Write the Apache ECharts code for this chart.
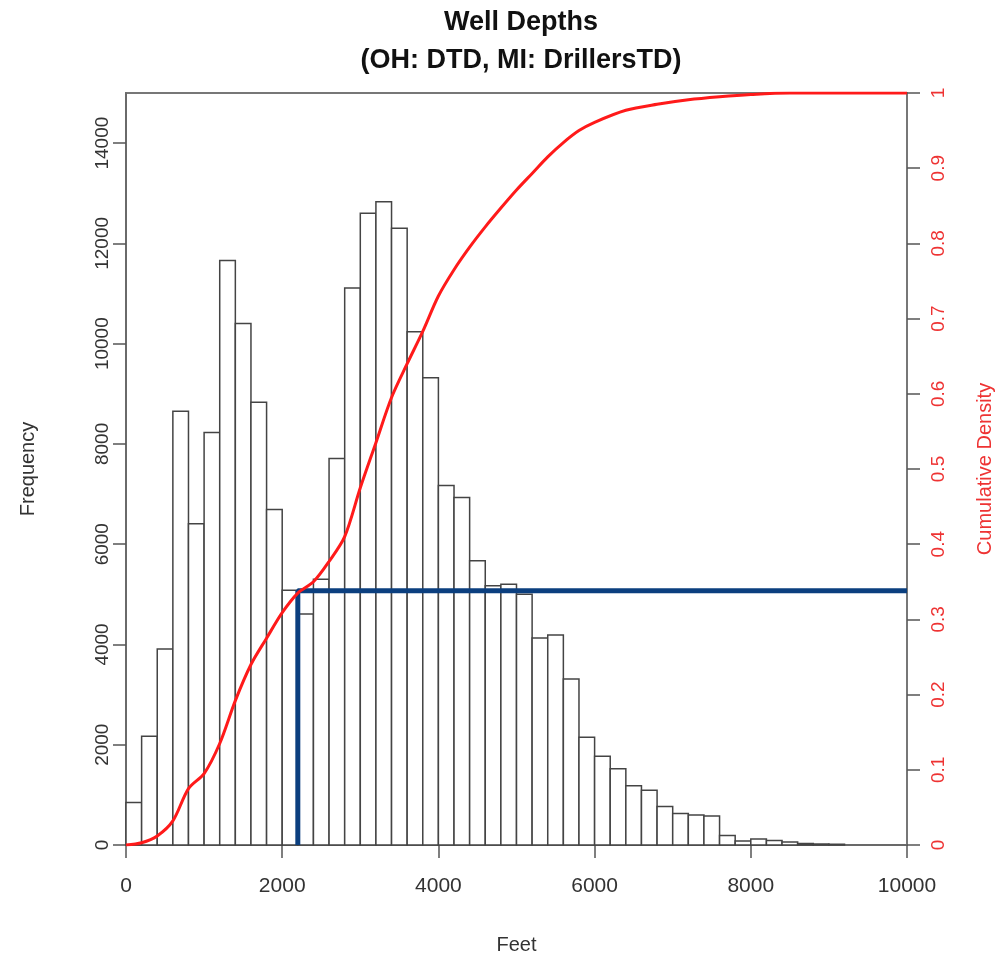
<!DOCTYPE html>
<html>
<head>
<meta charset="utf-8">
<title>Well Depths</title>
<script src="https://cdn.jsdelivr.net/npm/echarts@6/dist/echarts.min.js"></script>
<style>
  html, body { margin: 0; padding: 0; background: #fff; }
  #chart { width: 1007px; height: 960px; }
</style>
</head>
<body>
<div id="chart"></div>
<script>
// histogram: 200 ft bins starting at 0
const binWidth = 200
const counts = [
  850, 2170, 3910, 8650, 6410, 8230, 11660, 10400, 8830, 6690,
  5080, 4610, 5300, 7710, 11110, 12600, 12830, 12300, 10240, 9320,
  7170, 6930, 5670, 5170, 5200, 5000, 4130, 4190, 3310, 2150,
  1770, 1520, 1180, 1090, 770, 630, 600, 580, 190, 80,
  120, 90, 60, 30, 20, 15
]

// cumulative density curve
const cdfFeet = [
  0, 200, 400, 600, 800, 1000, 1200, 1400, 1600, 1800,
  2000, 2200, 2400, 2600, 2800, 3000, 3200, 3400, 3600, 3800,
  4000, 4200, 4400, 4600, 4800, 5000, 5200, 5400, 5600, 5800,
  6000, 6400, 6800, 7200, 7600, 8000, 8500, 10000
]
const cdfValues = [
  0, 0.003, 0.012, 0.032, 0.075, 0.095, 0.135, 0.192, 0.240, 0.275,
  0.309, 0.335, 0.350, 0.377, 0.410, 0.475, 0.535, 0.595, 0.640, 0.683,
  0.730, 0.765, 0.795, 0.822, 0.847, 0.871, 0.893, 0.915, 0.934, 0.950,
  0.961, 0.977, 0.985, 0.991, 0.995, 0.998, 1, 1
]

// marker at 2200 ft / 0.338
const markerFeet = 2200
const markerDensity = 0.338

const freqTicks = [0, 2000, 4000, 6000, 8000, 10000, 12000, 14000]

const fontFamily = '"Liberation Sans", Arial, sans-serif'

const binData = counts.map((c, i) => [i * binWidth, (i + 1) * binWidth, c])

const chartOptions = {
  animation: false,
  title: {
    text: 'Well Depths\n(OH: DTD, MI: DrillersTD)',
    left: 516,
    top: -1,
    textAlign: 'center',
    textStyle: {
      fontFamily,
      fontSize: 27,
      fontWeight: 'bold',
      color: '#111',
      lineHeight: 38
    }
  },
  grid: {
    left: 126,
    right: 100,
    top: 93,
    bottom: 115,
    show: true,
    borderColor: '#777',
    borderWidth: 2
  },
  xAxis: {
    type: 'value',
    min: 0,
    max: 10000,
    interval: 2000,
    name: 'Feet',
    nameLocation: 'middle',
    nameGap: 90,
    nameTextStyle: { fontFamily, fontSize: 20, color: '#333' },
    axisLine: { show: true, onZero: false, lineStyle: { color: '#666', width: 1.5 } },
    axisTick: { show: true, length: 13, lineStyle: { color: '#555', width: 1.5 } },
    axisLabel: { margin: 31, fontFamily, fontSize: 21, color: '#333', formatter: v => String(v) },
    splitLine: { show: false }
  },
  yAxis: [
    {
      type: 'value',
      min: 0,
      max: 15000,
      name: 'Frequency',
      nameLocation: 'middle',
      nameRotate: 90,
      nameGap: 88,
      nameTextStyle: { fontFamily, fontSize: 20, color: '#333' },
      axisLine: { show: true, lineStyle: { color: '#666', width: 1.5 } },
      axisTick: { show: true, length: 13, customValues: freqTicks, lineStyle: { color: '#555', width: 1.5 } },
      axisLabel: { customValues: freqTicks, rotate: 90, margin: 14, fontFamily, fontSize: 19, color: '#333', formatter: v => String(v) },
      splitLine: { show: false }
    },
    {
      type: 'value',
      position: 'right',
      min: 0,
      max: 1,
      interval: 0.1,
      name: 'Cumulative Density',
      nameLocation: 'middle',
      nameRotate: 90,
      nameGap: 68,
      nameTextStyle: { fontFamily, fontSize: 20, color: '#ee3333' },
      axisLine: { show: true, lineStyle: { color: '#777', width: 2 } },
      axisTick: { show: true, length: 13, lineStyle: { color: '#555', width: 1.5 } },
      axisLabel: { rotate: 90, margin: 22, fontFamily, fontSize: 19, color: '#ee3333' },
      splitLine: { show: false }
    }
  ],
  series: [
    {
      name: 'Frequency',
      type: 'custom',
      data: binData,
      encode: { x: [0, 1], y: 2 },
      renderItem: (params, api) => {
        const p0 = api.coord([api.value(0), 0])
        const p1 = api.coord([api.value(1), api.value(2)])
        return {
          type: 'rect',
          shape: { x: p0[0], y: p1[1], width: p1[0] - p0[0], height: p0[1] - p1[1] },
          style: { fill: '#fff', stroke: '#444', lineWidth: 1.5 }
        }
      }
    },
    {
      name: 'Marker',
      type: 'line',
      yAxisIndex: 1,
      data: [[markerFeet, 0], [markerFeet, markerDensity], [10000, markerDensity]],
      symbol: 'none',
      lineStyle: { color: '#0b3f7f', width: 5 },
      z: 3
    },
    {
      name: 'Cumulative Density',
      type: 'line',
      yAxisIndex: 1,
      data: cdfFeet.map((f, i) => [f, cdfValues[i]]),
      symbol: 'none',
      smooth: 0.3,
      lineStyle: { color: '#ff1a1a', width: 3 },
      z: 4
    }
  ]
}

const chartInstance = echarts.init(document.getElementById('chart'))
chartInstance.setOption(chartOptions)
window.addEventListener('resize', () => chartInstance.resize())
</script>
</body>
</html>
